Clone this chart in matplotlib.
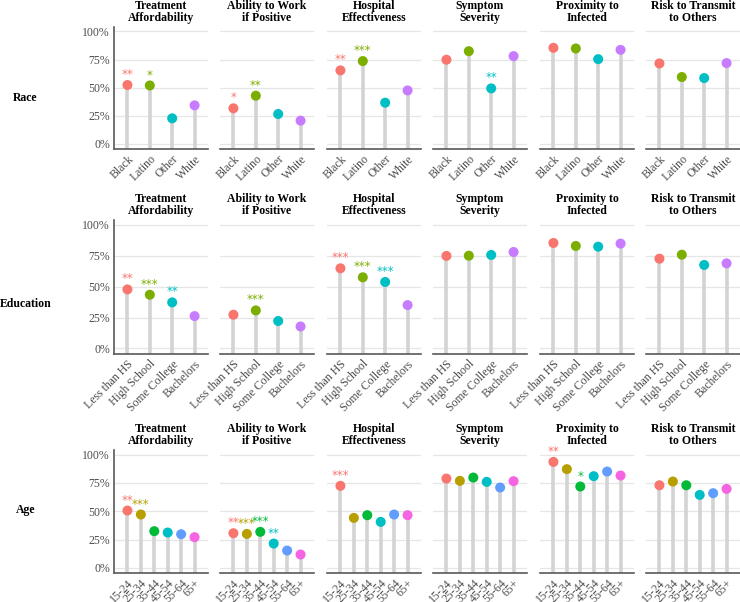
#!/usr/bin/env python3
"""Lollipop grid: perceived COVID-19 factors by race, education and age."""

import matplotlib
matplotlib.use("Agg")
import matplotlib.pyplot as plt

# === Data ===
panel_titles = ["Treatment\nAffordability", "Ability to Work\nif Positive",
                "Hospital\nEffectiveness", "Symptom\nSeverity",
                "Proximity to\nInfected", "Risk to Transmit\nto Others"]

row_labels = ["Race", "Education", "Age"]

race_groups = ["Black", "Latino", "Other", "White"]
race_values = [
    [0.524, 0.520, 0.228, 0.343],
    [0.317, 0.429, 0.266, 0.207],
    [0.654, 0.737, 0.367, 0.476],
    [0.749, 0.825, 0.494, 0.781],
    [0.855, 0.849, 0.754, 0.837],
    [0.716, 0.595, 0.586, 0.719],
]
race_stars = [
    ["**", "*", "", ""],
    ["*", "**", "", ""],
    ["**", "***", "", ""],
    ["", "", "**", ""],
    ["", "", "", ""],
    ["", "", "", ""],
]

edu_groups = ["Less than HS", "High School", "Some College", "Bachelors"]
edu_values = [
    [0.478, 0.435, 0.373, 0.262],
    [0.273, 0.308, 0.222, 0.178],
    [0.649, 0.576, 0.538, 0.351],
    [0.749, 0.751, 0.757, 0.781],
    [0.854, 0.830, 0.824, 0.849],
    [0.727, 0.759, 0.676, 0.689],
]
edu_stars = [
    ["**", "***", "**", ""],
    ["", "***", "", ""],
    ["***", "***", "***", ""],
    ["", "", "", ""],
    ["", "", "", ""],
    ["", "", "", ""],
]

age_groups = ["15-24", "25-34", "35-44", "45-54", "55-64", "65+"]
age_values = [
    [0.506, 0.471, 0.324, 0.312, 0.297, 0.271],
    [0.306, 0.300, 0.318, 0.215, 0.153, 0.118],
    [0.724, 0.441, 0.465, 0.406, 0.471, 0.465],
    [0.788, 0.768, 0.797, 0.759, 0.709, 0.765],
    [0.935, 0.871, 0.718, 0.809, 0.850, 0.815],
    [0.729, 0.762, 0.729, 0.644, 0.659, 0.697],
]
age_stars = [
    ["**", "***", "", "", "", ""],
    ["**", "***", "***", "**", "", ""],
    ["***", "", "", "", "", ""],
    ["", "", "", "", "", ""],
    ["**", "", "*", "", "", ""],
    ["", "", "", "", "", ""],
]

# ggplot default hue palettes
HUE4 = ["#F8766D", "#7CAE00", "#00BFC4", "#C77CFF"]
HUE6 = ["#F8766D", "#B79F00", "#00BA38", "#00BFC4", "#619CFF", "#F564E3"]

rows = [
    (race_groups, race_values, race_stars, HUE4),
    (edu_groups, edu_values, edu_stars, HUE4),
    (age_groups, age_values, age_stars, HUE6),
]

# === Layout (pixels) ===
W, H = 740, 602
COL_LEFT = [114, 220, 327, 433, 540, 646]
COL_W = 94
ROW_Y = [(27, 149), (220, 354), (450, 573)]  # top, bottom of each axes
ROW_LABEL_Y = [98, 304, 510]
YLIM = (-0.045, 1.04)

SERIF = "Liberation Serif"
STEM = "#D3D3D3"
GRID = "#E6E6E6"
AXIS = "#595959"
TICK = "#4D4D4D"

fig = plt.figure(figsize=(W / 100, H / 100), dpi=100)

for r, (groups, values, stars, palette) in enumerate(rows):
    top, bot = ROW_Y[r]
    n = len(groups)
    x = list(range(n))
    for c in range(6):
        ax = fig.add_axes([COL_LEFT[c] / W, (H - bot) / H, COL_W / W, (bot - top) / H])
        vals = values[c]
        ax.vlines(x, YLIM[0], vals, color=STEM, linewidth=2.6, zorder=2)
        ax.scatter(x, vals, s=52, c=palette[:n], zorder=3, linewidths=0)
        for i, s in enumerate(stars[c]):
            if s:
                ax.annotate(s, (i, vals[i]), xytext=(0, 7.5), textcoords="offset points",
                            ha="center", va="center", fontsize=8.5, color=palette[i],
                            family="DejaVu Sans", zorder=4)

        ax.set_xlim(-0.2 * (n - 1), 1.2 * (n - 1))
        ax.set_ylim(*YLIM)
        ax.set_yticks([0, 0.25, 0.5, 0.75, 1.0])
        ax.yaxis.grid(True, color=GRID, linewidth=0.9, zorder=0)
        ax.set_axisbelow(True)
        ax.set_xticks(x)
        ax.set_xticklabels(groups, rotation=45, ha="right", rotation_mode="anchor",
                           family=SERIF, fontsize=8.5, color=TICK)
        ax.tick_params(axis="both", length=0, pad=3)
        for side in ("top", "right"):
            ax.spines[side].set_visible(False)
        ax.spines["bottom"].set_color(AXIS)
        ax.spines["bottom"].set_linewidth(1.2)
        if c == 0:
            ax.set_yticklabels(["0%", "25%", "50%", "75%", "100%"],
                               family=SERIF, fontsize=8.5, color=TICK)
            ax.spines["left"].set_color(AXIS)
            ax.spines["left"].set_linewidth(1.2)
        else:
            ax.set_yticklabels([])
            ax.spines["left"].set_visible(False)
        ax.set_title(panel_titles[c], family=SERIF, fontweight="bold", fontsize=8.5,
                     linespacing=1.0, pad=4)

    fig.text(25.5 / W, 1 - ROW_LABEL_Y[r] / H, row_labels[r], ha="center", va="center",
             family=SERIF, fontweight="bold", fontsize=8.5)

fig.savefig("out.png", dpi=100)
